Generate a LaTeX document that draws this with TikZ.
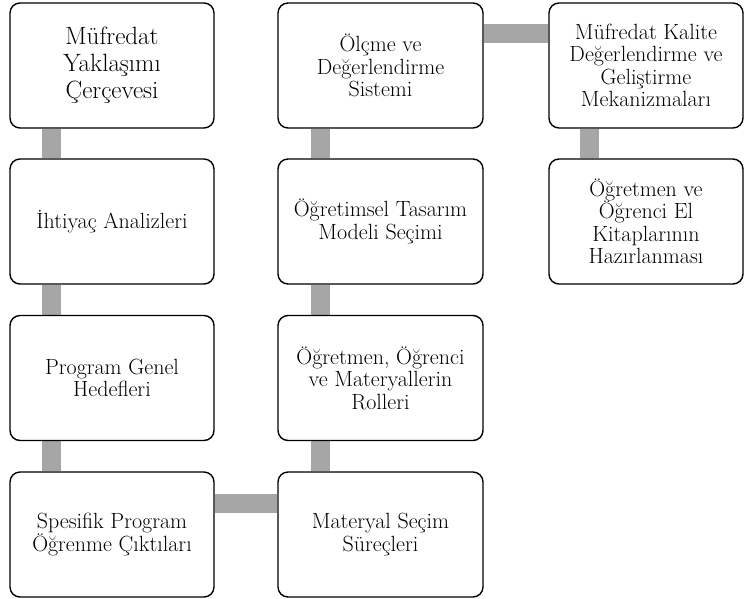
\documentclass[tikz,border=0pt]{standalone}
\usepackage{fontspec}
\usetikzlibrary{calc,backgrounds}
\begin{document}
\begin{tikzpicture}[x=1pt,y=1pt,
  box/.style={draw=black,line width=1.4pt,rounded corners=10pt,fill=white,
    minimum width=204pt,minimum height=125pt,align=center,inner sep=2pt,
    font=\fontsize{22}{22.5}\selectfont,text=black},
  bigtext/.style={font=\fontsize{25}{27}\selectfont},
  conn/.style={draw=black!35,line width=19pt}]
\useasboundingbox (0,0) rectangle (744,-598);
\node[box,bigtext] (mf) at (112,-65.5) {Müfredat\\Yaklaşımı\\Çerçevesi};
\node[box] (ia) at (112,-221.5) {İhtiyaç Analizleri};
\node[box] (pg) at (112,-378) {Program Genel\\Hedefleri};
\node[box] (sp) at (112,-534.5) {Spesifik Program\\Öğrenme Çıktıları};
\node[box,minimum width=205pt] (ms) at (380.5,-534.5) {Materyal Seçim\\Süreçleri};
\node[box,minimum width=205pt] (or) at (380.5,-378) {Öğretmen, Öğrenci\\ve Materyallerin\\Rolleri};
\node[box,minimum width=205pt] (ot) at (380.5,-221.5) {Öğretimsel Tasarım\\Modeli Seçimi};
\node[box,minimum width=205pt] (od) at (380.5,-65.5) {Ölçme ve\\Değerlendirme\\Sistemi};
\node[box,minimum width=194pt] (mk) at (646,-65.5) {Müfredat Kalite\\Değerlendirme ve\\Geliştirme\\Mekanizmaları};
\node[box,minimum width=194pt] (oe) at (646,-221.5) {Öğretmen ve\\Öğrenci El\\Kitaplarının\\Hazırlanması};
\begin{scope}[on background layer]
\draw[conn] ($(mf.south west)+(42,0)$) -- ($(ia.north west)+(42,0)$);
\draw[conn] ($(ia.south west)+(42,0)$) -- ($(pg.north west)+(42,0)$);
\draw[conn] ($(pg.south west)+(42,0)$) -- ($(sp.north west)+(42,0)$);
\draw[conn] ($(sp.north east)+(0,-32)$) -- ($(ms.north west)+(0,-32)$);
\draw[conn] ($(ms.north west)+(43,0)$) -- ($(or.south west)+(43,0)$);
\draw[conn] ($(or.north west)+(43,0)$) -- ($(ot.south west)+(43,0)$);
\draw[conn] ($(ot.north west)+(43,0)$) -- ($(od.south west)+(43,0)$);
\draw[conn] ($(od.north east)+(0,-31)$) -- ($(mk.north west)+(0,-31)$);
\draw[conn] ($(mk.south west)+(41,0)$) -- ($(oe.north west)+(41,0)$);
\end{scope}
\end{tikzpicture}
\end{document}
